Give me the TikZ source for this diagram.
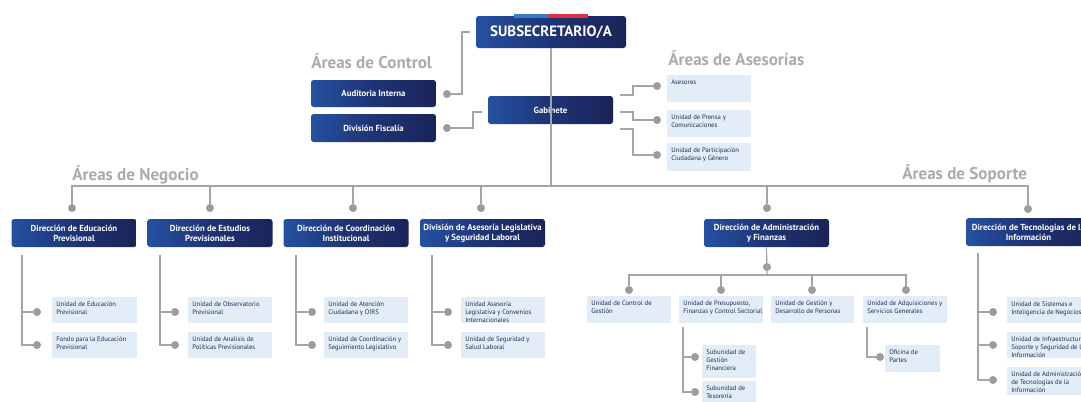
\documentclass[tikz,border=0pt]{standalone}
\usepackage{fontspec}
\setmainfont{PT Sans}
\definecolor{navyD}{HTML}{1B2459}
\definecolor{navyM}{HTML}{1E3374}
\definecolor{navyL}{HTML}{2551A2}
\definecolor{lightbg}{HTML}{E3EDF8}
\definecolor{linegray}{HTML}{A5A5A5}
\definecolor{dotgray}{HTML}{9C9C9C}
\definecolor{titlegray}{HTML}{ABABAB}
\definecolor{txtnavy}{HTML}{1F2B58}
\definecolor{flagblue}{HTML}{3A7BC8}
\definecolor{flagred}{HTML}{E0313F}
\tikzset{
  navy/.style={rounded corners=2pt, left color=navyL, right color=navyD, middle color=navyM,
    text=white, font=\bfseries\fontsize{6.6}{7.6}\selectfont, align=center, inner sep=0pt,
    minimum width=93.75pt, minimum height=21pt},
  unit/.style={fill=lightbg, inner sep=0pt, anchor=north west},
  unittext/.style={anchor=north west, text=txtnavy, font=\fontsize{5}{6}\selectfont,
    align=left, inner sep=0pt},
  conn/.style={draw=linegray, line width=0.9pt},
  dot/.style={circle, fill=dotgray, minimum size=6pt, inner sep=0pt},
  area/.style={text=titlegray, font=\bfseries\fontsize{12.8}{14}\selectfont, inner sep=0pt, anchor=base west},
}
% light unit box: name, left x, top y, width, height (px), text
\newcommand\unitbox[6]{%
  \node[unit, minimum width=#4*0.75pt, minimum height=#5*0.75pt] (#1) at (#2,#3) {};
  \node[unittext] (#1-t) at ([xshift=3pt,yshift=-3.2pt]#1.north west) {#6};}
\begin{document}
\begin{tikzpicture}[x=0.75pt, y=-0.75pt]
\useasboundingbox (0,0) rectangle (1081,401);
\clip (0,0) rectangle (1081,401);
\fill[white] (0,0) rectangle (1081,401);

% ---------- top level ----------
\node[navy, minimum width=112.5pt, minimum height=24pt, font=\bfseries\fontsize{11.2}{13}\selectfont] (sub) at (551,32) {SUBSECRETARIO/A};
\fill[flagblue] (514,13.5) rectangle (547,17.5);
\fill[flagred] (547,13.5) rectangle (588,17.5);

\node[area] (t-control) at (311,68) {Áreas de Control};
\node[area] (t-ases) at (668,65) {Áreas de Asesorías};
\node[area] (t-neg) at (72,180) {Áreas de Negocio};
\node[area] (t-sop) at (902,179) {Áreas de Soporte};

\node[navy, minimum height=20.25pt] (aud) at (373.5,93.5) {Auditoria Interna};
\node[navy] (fis) at (373.5,128) {División Fiscalía};
\node[navy] (gab) at (550.5,110) {Gabinete};

% control connectors
\node[dot] (d-aud) at (447,94) {};
\node[dot] (d-fis) at (447,128) {};
\coordinate (sub-l) at (470,32);
\coordinate (gab-l) at (482,112);
\draw[conn] (d-aud) -- ++(15,0) |- (sub-l);
\draw[conn] (d-fis) -- ++(26,0) |- (gab-l);

% advisory units
\unitbox{ase1}{667}{75}{84}{27}{Asesores}
\unitbox{ase2}{667}{110}{84}{27}{Unidad de Prensa y\\Comunicaciones}
\unitbox{ase3}{667}{143}{84}{28}{Unidad de Participación\\Ciudadana y Género}
\node[dot] (d-ase1) at (657,86) {};
\node[dot] (d-ase2) at (657,120) {};
\node[dot] (d-ase3) at (657,155) {};
\coordinate (gab-r1) at (620,95);
\coordinate (gab-r2) at (620,112);
\coordinate (gab-r3) at (620,129);
\draw[conn] (gab-r1) -- ++(13,0) |- (d-ase1);
\draw[conn] (gab-r2) -- ++(13,0) |- (d-ase2);
\draw[conn] (gab-r3) -- ++(13,0) |- (d-ase3);

% ---------- trunk ----------
\coordinate (trunkR) at (1028,186);
\node[dot] (d-edu) at (72,208) {};
\node[dot] (d-est) at (210,208) {};
\node[dot] (d-coo) at (353,208) {};
\node[dot] (d-leg) at (481,208) {};
\node[dot] (d-adm) at (767,208) {};
\node[dot] (d-tec) at (1028,209) {};
\draw[conn] (sub.south) -- (sub.south |- trunkR);
\draw[conn] (d-edu) |- (trunkR) -- (d-tec);
\foreach \n in {est,coo,leg,adm} \draw[conn] (d-\n) -- (d-\n |- trunkR);

% ---------- first level ----------
\node[navy] (edu) at (74,233) {Dirección de Educación\\Previsional};
\node[navy] (est) at (210,233) {Dirección de Estudios\\Previsionales};
\node[navy] (coo) at (346,233) {Dirección de Coordinación\\Institucional};
\node[navy] (leg) at (482.5,233) {División de Asesoría Legislativa\\y Seguridad Laboral};
\node[navy] (adm) at (766.5,233) {Dirección de Administración\\y Finanzas};
\node[navy] (tec) at (1028.5,232) {Dirección de Tecnologías de la\\Información};

% ---------- business units ----------
\unitbox{edu1}{52}{297}{85}{26}{Unidad de Educación\\Previsional}
\unitbox{edu2}{52}{332}{85}{26}{Fondo para la Educación\\Previsional}
\unitbox{est1}{188}{297}{84}{26}{Unidad de Observatorio\\Previsional}
\unitbox{est2}{188}{332}{84}{26}{Unidad de Analisis de\\Políticas Previsionales}
\unitbox{coo1}{324}{297}{84}{26}{Unidad de Atención\\Ciudadana y OIRS}
\unitbox{coo2}{324}{332}{84}{26}{Unidad de Coordinación y\\Seguimiento Legislativo}
\unitbox{leg1}{461}{297}{84}{26}{Unidad Asesoría\\Legislativa y Convenios\\Internacionales}
\unitbox{leg2}{461}{332}{84}{26}{Unidad de Seguridad y\\Salud Laboral}

\foreach \n/\vx/\dx in {edu/22/37, est/160/175, coo/296/312, leg/432/448} {
  \coordinate (\n-top) at (\vx,255);
  \node[dot] (d-\n1) at (\dx,312) {};
  \node[dot] (d-\n2) at (\dx,345) {};
  \draw[conn] (\n-top) |- (d-\n2);
  \draw[conn] (\n-top |- d-\n1) -- (d-\n1);
}

% ---------- administration ----------
\coordinate (adm-bar) at (767,275);
\node[dot] (d-admc) at (767,267) {};
\node[dot] (d-a1) at (629,290) {};
\node[dot] (d-a2) at (721,290) {};
\node[dot] (d-a3) at (812,290) {};
\node[dot] (d-a4) at (906,290) {};
\draw[conn] (adm.south) -- (adm-bar);
\draw[conn] (d-a1) |- (d-a4 |- adm-bar) -- (d-a4);
\draw[conn] (d-a2) -- (d-a2 |- adm-bar);
\draw[conn] (d-a3) -- (d-a3 |- adm-bar);

\unitbox{a1}{587}{296}{84}{27}{Unidad de Control de\\Gestión}
\unitbox{a2}{679}{296}{84}{27}{Unidad de Presupuesto,\\Finanzas y Control Sectorial}
\unitbox{a3}{771}{296}{83}{27}{Unidad de Gestión y\\Desarrollo de Personas}
\unitbox{a4}{863}{296}{84}{27}{Unidad de Adquisiciones y\\Servicios Generales}

\unitbox{s1}{702}{345}{54}{33}{Subunidad de\\Gestión\\Financiera}
\unitbox{s2}{702}{381}{54}{25}{Subunidad de\\Tesorería}
\coordinate (a2-top) at (683,327);
\node[dot] (d-s1) at (695,357) {};
\node[dot] (d-s2) at (695,392) {};
\draw[conn] (a2-top) |- (d-s2);
\draw[conn] (a2-top |- d-s1) -- (d-s1);

\unitbox{of}{885}{345}{55}{27}{Oficina de\\Partes}
\coordinate (a4-top) at (867,327);
\node[dot] (d-of) at (880,357) {};
\draw[conn] (a4-top) |- (d-of);

% ---------- technology ----------
\unitbox{t1}{1007}{297}{84}{26}{Unidad de Sistemas e\\Inteligencia de Negocios}
\unitbox{t2}{1007}{332}{84}{26}{Unidad de Infraestructura,\\Soporte y Seguridad de la\\Información}
\unitbox{t3}{1007}{367}{84}{28}{Unidad de Administración\\de Tecnologías de la\\Información}
\coordinate (tec-top) at (978,253);
\node[dot] (d-t1) at (993,312) {};
\node[dot] (d-t2) at (993,345) {};
\node[dot] (d-t3) at (993,380) {};
\draw[conn] (tec-top) |- (d-t3);
\draw[conn] (tec-top |- d-t1) -- (d-t1);
\draw[conn] (tec-top |- d-t2) -- (d-t2);
\end{tikzpicture}
\end{document}
